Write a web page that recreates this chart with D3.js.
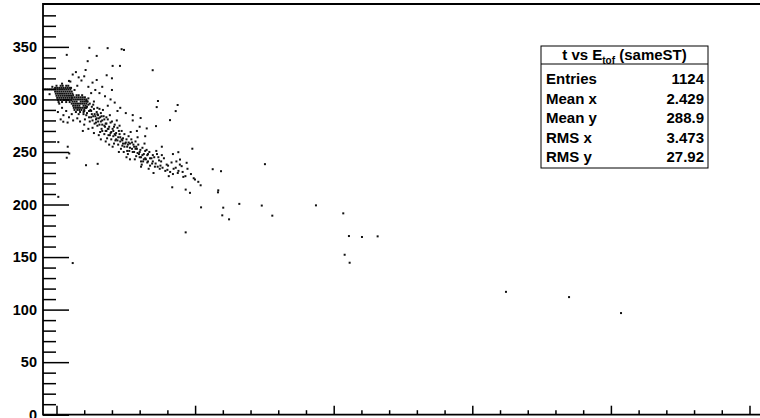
<!DOCTYPE html>
<html>
<head>
<meta charset="utf-8">
<script src="https://cdn.jsdelivr.net/npm/d3@7"></script>
<style>
  html, body { margin: 0; padding: 0; background: #fff; overflow: hidden; }
  svg { display: block; }
  .lbl { font-family: "Liberation Sans", Arial, Helvetica, sans-serif; font-weight: bold; }
</style>
</head>
<body>
<div id="chart"></div>
<script>
// y tick labels / tick positions
var yMajorTicks = [0, 50, 100, 150, 200, 250, 300, 350];
var yMinorTicks = [10, 20, 30, 40, 60, 70, 80, 90, 110, 120, 130, 140, 160, 170, 180, 190,
                   210, 220, 230, 240, 260, 270, 280, 290, 310, 320, 330, 340, 360, 370, 380];
var xMajorTicks = [0, 10, 20, 30, 40, 50];
var xMinorTicks = [2, 4, 6, 8, 12, 14, 16, 18, 22, 24, 26, 28, 32, 34, 36, 38, 42, 44, 46, 48];

// dense cores, written as [y, [x values]] rows
var coreA = [
  [313, [0.0, 0.3, 0.45, 0.7, 0.85]],
  [311, [-0.1, 0.05, 0.2, 0.35, 0.5, 0.65, 0.8, 0.95, 1.05]],
  [309.5, [-0.95, -0.8, -0.65, -0.5, -0.35, -0.2, -0.05, 0.1, 0.25, 0.4, 0.55, 0.7, 0.85, 1.0]],
  [307.5, [-0.1, 0.05, 0.2, 0.35, 0.5, 0.65, 0.8, 0.95, 1.1]],
  [305.5, [-0.05, 0.1, 0.25, 0.4, 0.55, 0.7, 0.85, 1.0, 1.15]],
  [303.5, [0.0, 0.15, 0.3, 0.45, 0.6, 0.75, 0.9, 1.05]],
  [301.5, [0.05, 0.2, 0.35, 0.5, 0.65, 0.8, 0.95, 1.1]],
  [299.5, [0.1, 0.3, 0.5, 0.6, 0.75, 0.9, 1.05]],
  [297.5, [0.15, 0.4, 0.7, 0.95]]
];
var coreB = [
  [304, [1.2, 1.45, 1.6, 1.85]],
  [302, [1.15, 1.3, 1.45, 1.6, 1.75, 1.9, 2.05]],
  [300, [1.1, 1.25, 1.4, 1.55, 1.7, 1.85, 2.0, 2.15]],
  [298, [1.15, 1.3, 1.45, 1.75, 1.9, 2.05, 2.2]],
  [296, [1.1, 1.25, 1.4, 1.55, 1.7, 1.85, 2.0, 2.15]],
  [294, [1.2, 1.35, 1.5, 1.65, 1.95, 2.1]],
  [292, [1.25, 1.4, 1.55, 1.7, 1.85, 2.0, 2.15]],
  [290, [1.3, 1.5, 1.65, 1.8, 2.0]],
  [288, [1.4, 1.7, 1.95]]
];

// falling band [x, y]
var band = [
  [2.1,292],[2.2,287],[2.3,295],[2.35,283],[2.45,290],[2.05,281],[2.25,298],[2.4,279],[2.15,285],[2.3,301],
  [2.55,286],[2.6,280],[2.7,291],[2.75,277],[2.8,284],[2.9,288],[2.65,295],[2.95,275],[2.85,281],[2.6,273],[2.7,298],[2.95,292],
  [3.05,282],[3.1,276],[3.2,287],[3.25,272],[3.3,280],[3.4,284],[3.15,269],[3.45,275],[3.35,290],[3.05,266],[3.2,279],[3.45,267],
  [3.55,277],[3.6,270],[3.7,281],[3.75,266],[3.8,274],[3.9,278],[3.65,263],[3.95,269],[3.85,285],[3.55,260],[3.7,272],[3.95,262],
  [4.05,272],[4.1,265],[4.2,276],[4.25,261],[4.3,268],[4.4,273],[4.15,258],[4.45,264],[4.35,280],[4.05,255],[4.2,267],[4.45,257],
  [4.55,267],[4.6,260],[4.7,270],[4.75,256],[4.8,263],[4.9,267],[4.65,253],[4.95,258],[4.55,275],[4.85,250],[4.7,262],
  [5.05,262],[5.1,255],[5.2,265],[5.25,251],[5.3,258],[5.4,262],[5.15,248],[5.45,253],[5.35,269],[5.05,245],
  [5.55,257],[5.6,250],[5.7,260],[5.75,246],[5.8,253],[5.9,257],[5.65,243],[5.95,248],[5.85,264],
  [6.05,252],[6.1,245],[6.2,254],[6.25,241],[6.3,248],[6.4,251],[6.15,238],[6.45,243],[6.35,258],
  [6.55,247],[6.6,241],[6.7,250],[6.75,237],[6.85,244],[6.95,247],[6.65,234],[6.9,239],
  [7.05,245],[7.15,239],[7.25,248],[7.3,236],[7.4,242],[7.45,234],[7.2,251],
  [7.55,241],[7.65,235],[7.75,244],[7.85,232],[7.95,238],[7.6,247],
  [8.05,237],[8.2,231],[8.3,240],[8.45,234],[8.1,227],
  [8.6,235],[8.75,230],[8.9,238],[8.65,241],
  [9.1,231],[9.3,227],[9.45,234],[9.7,229],[9.9,225],
  [2.0,289],[2.5,283],[2.85,278],[3.0,285],[3.3,270],[3.6,283],[2.4,296],[2.15,299],[1.95,286],[2.55,293],
  [3.1,291],[3.5,274],[4.0,279],[4.3,262],[4.8,258],[5.2,259],[5.6,255],[6.0,250],[6.3,243],[6.6,248],
  [2.2,293],[2.5,289],[2.75,286],[2.9,282],[3.0,279],[3.15,283],[3.3,276],[3.45,281],[3.6,277],[3.75,272],
  [3.9,268],[4.1,270],[4.25,266],[4.4,261],[4.6,264],[4.75,261],[4.9,255],[5.0,259],[5.15,257],[5.3,254],
  [5.5,250],[5.7,253],[5.85,249],[6.0,245],[6.2,247],[6.4,244],[6.55,240],[6.75,244],[6.95,241],[7.1,236],
  [7.35,245],[2.35,289],[2.65,284],[2.95,286],[3.25,284],[3.55,270],[3.85,266],[4.15,274],[4.5,270],[5.1,251],
  [5.45,259],[5.75,255],[6.1,241],[6.5,252],[7.5,237],[8.0,233],[8.4,229],[8.8,232]
];

// scattered points around the band
var halo = [
  [2.3,312],[2.8,309],[3.1,306],[3.5,303],[3.9,300],[2.6,316],[3.3,312],[4.2,297],[4.6,292],[5.0,287],
  [5.5,280],[6.0,274],[4.0,309],[1.8,318],[2.0,322],[1.5,313],[1.3,309],[2.5,306],[3.7,294],[4.4,289],
  [1.6,286],[0.2,296],[0.4,292],[0.7,289],[0.5,285],[0.9,283],[1.1,286],[0.3,281],[1.2,280],[0.8,278],
  [1.5,282],[1.7,279],[2.0,276],[0.1,288],[2.3,272],[1.9,270],[2.7,268],[3.2,262],[3.8,257],[4.5,250],
  [5.3,243],[6.1,236],[7.0,230],[1.0,317],[1.6,321],[0.4,315],[-0.5,305],[-0.3,312],[1.4,326],[2.1,328],
  [5.8,270],[6.4,265],[7.6,255],[8.4,248]
];

// isolated entries
var outliers = [
  [0.74,342.4],[2.37,349.1],[2.9,341.4],[3.69,348.8],[4.7,347.8],[4.87,347.1],[2.25,336.4],[4.05,331.9],
  [4.58,331.9],[6.94,327.8],[3.62,323.0],[4.0,320.1],[1.17,323.7],[0.9,317.6],[2.9,318.5],[7.32,298.5],
  [7.23,292.7],[8.74,294.7],[8.6,288.9],[0.49,278.8],[5.5,285.1],[6.07,282.3],[8.19,280.3],[6.51,272.4],
  [7.18,274.6],[0.13,259.4],[0.81,255.0],[0.92,248.6],[0.74,244.5],[2.13,237.4],[2.97,238.7],[0.13,207.3],
  [1.17,144.3],[9.32,173.5],[8.35,216.4],[9.32,214.2],[9.63,211.1],[9.15,226.3],[9.99,223.8],[10.23,221.6],
  [9.8,253.1],[8.79,249.8],[9.39,239.7],[9.03,236.5],[8.91,242.8],[15.04,238.4],[11.27,233.6],[11.87,231.7],
  [10.4,218.3],[11.67,213.5],[11.65,211.6],[13.19,200.6],[14.81,199.0],[18.72,199.2],[10.43,197.3],[12.03,197.0],
  [20.69,191.6],[11.96,189.7],[12.45,185.9],[15.57,189.4],[21.1,170.0],[22.04,169.1],[23.17,169.7],[20.79,152.2],
  [21.15,144.6],[32.43,116.9],[36.98,111.9],[40.73,96.7]
];

var statLabels = ["Entries", "Mean x", "Mean y", "RMS x", "RMS y"];
var statValues = ["1124", "2.429", "288.9", "3.473", "27.92"];

var W = 760, H = 418;
var padL = 43, padT = 4, padR = 772, padB = 414.7;

var svg = d3.select("#chart").append("svg")
    .attr("width", W).attr("height", H);

// x: 0 sits on the first long tick, 10 units per major step
var x = d3.scaleLinear().domain([-1, 51]).range([56.5 - 13.86, 56.5 + 13.86 * 51]);
var y = d3.scaleLinear().domain([0, 390.8]).range([padB, padT]);

// flatten rows into points
var points = [];
coreA.concat(coreB).forEach(function (row) {
    row[1].forEach(function (v) { points.push([v, row[0]]); });
});
points = points.concat(band, halo, outliers);

svg.append("g").selectAll("rect")
    .data(points)
    .enter().append("rect")
    .attr("x", function (d) { return x(d[0]) - 1; })
    .attr("y", function (d) { return y(d[1]) - 1; })
    .attr("width", 2).attr("height", 2)
    .attr("fill", "#111");

// y axis (ticks point inwards)
var gy = svg.append("g").attr("transform", "translate(" + padL + ",0)");
gy.call(d3.axisLeft(y).tickValues(yMajorTicks).tickSize(-26).tickSizeOuter(0).tickPadding(6));
gy.append("g").call(d3.axisLeft(y).tickValues(yMinorTicks).tickSize(-13).tickSizeOuter(0).tickFormat(""));
gy.selectAll("path.domain").remove();
gy.selectAll("line").attr("stroke", "#000").attr("stroke-width", 1.5);
gy.selectAll("text").attr("class", "lbl").attr("font-size", 14.5).attr("fill", "#000");

// x axis
var gx = svg.append("g").attr("transform", "translate(0," + padB + ")");
gx.call(d3.axisBottom(x).tickValues(xMajorTicks).tickSize(-9).tickSizeOuter(0).tickFormat(""));
gx.append("g").call(d3.axisBottom(x).tickValues(xMinorTicks).tickSize(-4.5).tickSizeOuter(0).tickFormat(""));
gx.selectAll("path.domain").remove();
gx.selectAll("line").attr("stroke", "#000").attr("stroke-width", 1.5);

// frame: only left, top and bottom fall inside the picture
svg.append("path")
    .attr("d", "M" + padR + "," + padT + "H" + padL + "V" + padB + "H" + padR)
    .attr("fill", "none").attr("stroke", "#000").attr("stroke-width", 1.8);

// stats box
var bx0 = 541, bx1 = 708, by0 = 46, by1 = 168, bsep = 64;
var box = svg.append("g");
box.append("rect")
    .attr("x", bx0).attr("y", by0).attr("width", bx1 - bx0).attr("height", by1 - by0)
    .attr("fill", "#fff").attr("stroke", "#000").attr("stroke-width", 1);
box.append("line")
    .attr("x1", bx0).attr("x2", bx1).attr("y1", bsep).attr("y2", bsep)
    .attr("stroke", "#000").attr("stroke-width", 1);

var title = box.append("text").attr("class", "lbl")
    .attr("x", (bx0 + bx1) / 2).attr("y", 60)
    .attr("text-anchor", "middle").attr("font-size", 15);
title.append("tspan").text("t vs E");
title.append("tspan").attr("dy", 4).attr("font-size", 10).text("tof");
title.append("tspan").attr("dy", -4).text(" (sameST)");

statLabels.forEach(function (s, i) {
    var cy = 84 + 19.5 * i;
    box.append("text").attr("class", "lbl").attr("font-size", 15)
        .attr("x", bx0 + 5).attr("y", cy).text(s);
    box.append("text").attr("class", "lbl").attr("font-size", 15)
        .attr("x", bx1 - 4).attr("y", cy).attr("text-anchor", "end").text(statValues[i]);
});
</script>
</body>
</html>
